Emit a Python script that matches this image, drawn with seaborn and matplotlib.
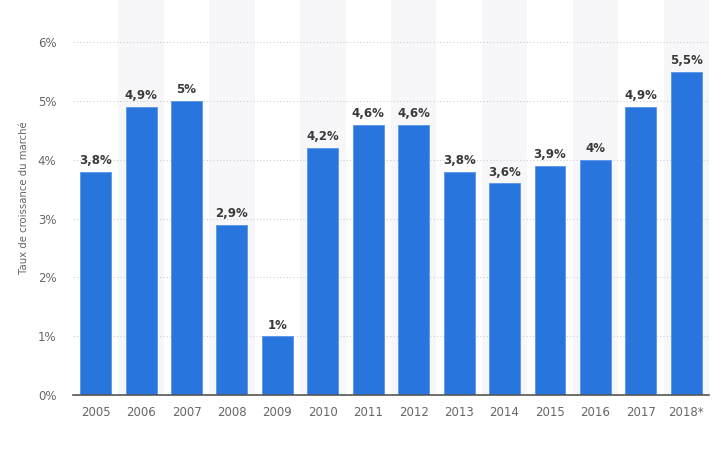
import matplotlib
matplotlib.use("Agg")
import matplotlib.pyplot as plt
import seaborn as sns
import pandas as pd

years = ["2005", "2006", "2007", "2008", "2009", "2010", "2011", "2012",
         "2013", "2014", "2015", "2016", "2017", "2018*"]
growth = [3.8, 4.9, 5.0, 2.9, 1.0, 4.2, 4.6, 4.6, 3.8, 3.6, 3.9, 4.0, 4.9, 5.5]
labels = ["3,8%", "4,9%", "5%", "2,9%", "1%", "4,2%", "4,6%", "4,6%",
          "3,8%", "3,6%", "3,9%", "4%", "4,9%", "5,5%"]
yticks = [0, 1, 2, 3, 4, 5, 6]

df = pd.DataFrame({"year": years, "growth": growth})

sns.set_style("white")
plt.rcParams["font.family"] = ["DejaVu Sans"]

fig = plt.figure(figsize=(7.22, 4.61), dpi=100)
ax = fig.add_axes([0.101, 0.143, 0.881, 0.857])

# alternating background bands
for i in range(len(years)):
    if i % 2 == 1:
        ax.axvspan(i - 0.5, i + 0.5, color="#f7f7f9", zorder=0, lw=0)

sns.barplot(data=df, x="year", y="growth", color="#2876dd", width=0.68,
            saturation=1, ax=ax, zorder=3, edgecolor="#5a95e6", linewidth=0.6)

for i, (v, lab) in enumerate(zip(growth, labels)):
    ax.text(i, v + 0.08, lab, ha="center", va="bottom", fontsize=8.5,
            fontweight="bold", color="#3a3a3a", zorder=4)

ax.set_xlim(-0.5, len(years) - 0.5)
ax.set_ylim(0, 6.72)
ax.set_yticks(yticks)
ax.set_yticklabels([f"{t}%" for t in yticks])
ax.yaxis.grid(True, linestyle=(0, (1, 2)), color="#cfcfcf", linewidth=0.8)
ax.set_axisbelow(True)
for s in ["top", "right", "left"]:
    ax.spines[s].set_visible(False)
ax.spines["bottom"].set_color("#555555")
ax.spines["bottom"].set_linewidth(1.2)
ax.spines["bottom"].set_zorder(5)
ax.tick_params(axis="both", length=0, labelsize=8.5, colors="#666666")
ax.tick_params(axis="x", pad=8)
ax.tick_params(axis="y", pad=12)
ax.set_xlabel("")
ax.set_ylabel("Taux de croissance du marché", fontsize=7.3, color="#666666", labelpad=6)

fig.savefig("out.png", dpi=100)
